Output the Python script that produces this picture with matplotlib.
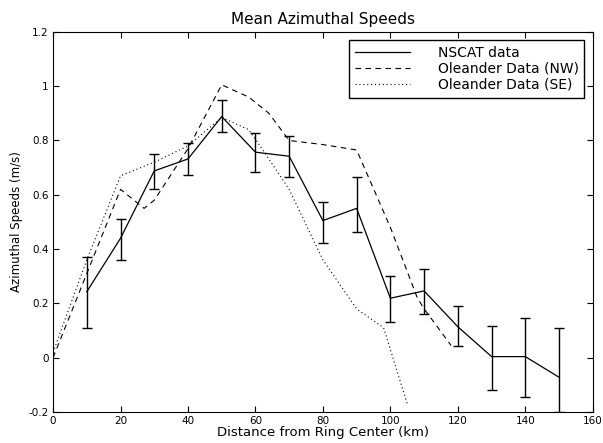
import matplotlib
matplotlib.use('Agg')
import matplotlib.pyplot as plt
from matplotlib.lines import Line2D

plt.rcParams['font.family'] = ['DejaVu Sans']

# NSCAT data with error bars
nscat_x = [10, 20, 30, 40, 50, 60, 70, 80, 90, 100, 110, 120, 130, 140, 150]
nscat_y = [0.243, 0.44, 0.688, 0.732, 0.888, 0.757, 0.742, 0.505, 0.55, 0.219, 0.246, 0.114, 0.004, 0.004, -0.072]
nscat_lo = [0.11, 0.36, 0.62, 0.673, 0.832, 0.685, 0.667, 0.421, 0.462, 0.133, 0.162, 0.044, -0.119, -0.144, -0.2]
nscat_hi = [0.372, 0.51, 0.75, 0.79, 0.95, 0.828, 0.815, 0.575, 0.665, 0.302, 0.328, 0.19, 0.117, 0.147, 0.11]

# Oleander NW
nw_x = [0, 10, 20, 27, 30, 40, 50, 58, 64, 70, 80, 90, 100, 108, 110, 118]
nw_y = [0.0, 0.31, 0.62, 0.55, 0.58, 0.77, 1.005, 0.96, 0.9, 0.8, 0.785, 0.765, 0.48, 0.22, 0.18, 0.045]

# Oleander SE
se_x = [0, 10, 20, 30, 40, 50, 58, 63, 70, 80, 90, 98, 105]
se_y = [0.02, 0.36, 0.67, 0.72, 0.78, 0.885, 0.84, 0.75, 0.62, 0.36, 0.18, 0.11, -0.17]

fig = plt.figure(figsize=(6.03, 4.43), dpi=100)
ax = fig.add_axes([0.088, 0.07, 0.895, 0.858])

yerr = [[y - lo for y, lo in zip(nscat_y, nscat_lo)],
        [hi - y for y, hi in zip(nscat_y, nscat_hi)]]
ax.errorbar(nscat_x, nscat_y, yerr=yerr, color='k', lw=0.9, capsize=3.5,
            elinewidth=1.0, capthick=1.0)
ax.plot(nw_x, nw_y, color='k', lw=0.8, ls=(0, (5, 4)))
ax.plot(se_x, se_y, color='k', lw=0.8, ls=(0, (1, 2.5)))

ax.set_xlim(0, 160)
ax.set_ylim(-0.2, 1.2)
ax.set_xticks(range(0, 161, 20))
ax.set_yticks([-0.2, 0, 0.2, 0.4, 0.6, 0.8, 1.0, 1.2])
ax.set_yticklabels(['-0.2', '0', '0.2', '0.4', '0.6', '0.8', '1', '1.2'])
ax.tick_params(direction='in', top=True, right=True, length=4, labelsize=7.5, pad=3)

ax.set_title('Mean Azimuthal Speeds', fontsize=11, pad=6)
ax.set_xlabel('Distance from Ring Center (km)', fontsize=9.5, labelpad=0)
ax.set_ylabel('Azimuthal Speeds (m/s)', fontsize=8.5, labelpad=4)

handles = [Line2D([], [], color='k', lw=0.9),
           Line2D([], [], color='k', lw=0.8, ls=(0, (5, 4))),
           Line2D([], [], color='k', lw=0.8, ls=(0, (1, 2.5)))]
labels = ['NSCAT data', 'Oleander Data (NW)', 'Oleander Data (SE)']
ax.legend(handles, labels, loc='upper right', fontsize=10, frameon=True, fancybox=False,
          edgecolor='k', framealpha=1, handlelength=4.0, handletextpad=2.0,
          borderaxespad=0.6, labelspacing=0.15, borderpad=0.4)

fig.savefig('out.png', dpi=100)
